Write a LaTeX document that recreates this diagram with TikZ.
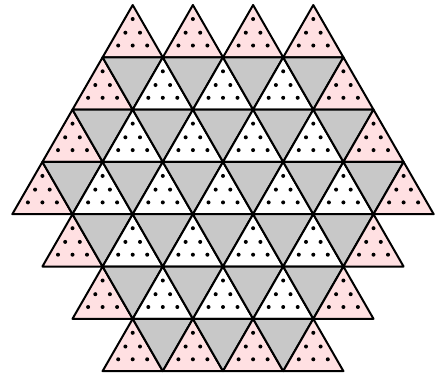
\documentclass[tikz,border=0pt]{standalone}
\definecolor{pinkfill}{RGB}{255,224,226}
\definecolor{greyfill}{RGB}{200,200,200}
\begin{document}
\begin{tikzpicture}[x=1pt,y=-1pt,
  tri/.style={draw=black,line width=2pt,line join=round},
  dotmark/.style={fill=black}]
\useasboundingbox (0,0) rectangle (437,373);
\def\s{60.2}
\def\h{52.3}
\def\cx{223}
\def\ytop{5}
\foreach \r/\n in {0/4,1/5,2/6,3/7,4/6,5/5,6/4}{
  \pgfmathsetmacro\yt{\ytop+\r*\h}
  \pgfmathtruncatemacro\last{\n-1}
  \foreach \k in {0,...,\last}{
    \pgfmathsetmacro\ax{\cx+(\k-(\n-1)/2)*\s}
    \pgfmathtruncatemacro\ispink{(\k==0)||(\k==\last)||(\r==0)||(\r==6)}
    \ifnum\ispink=1 \def\fc{pinkfill}\else\def\fc{white}\fi
    \draw[tri,fill=\fc] (\ax,\yt) -- ++(-\s/2,\h) -- ++(\s,0) -- cycle;
    \foreach \dx/\dy in {0/14,-7.3/27.7,7.3/27.7,-14.5/40.5,0/40.5,14.5/40.5}
      \fill[dotmark] (\ax+\dx,\yt+\dy) circle (2pt);
    \ifnum\r>0 \ifnum\k<\last
      \draw[tri,fill=greyfill] (\ax,\yt) -- ++(\s,0) -- ++(-\s/2,\h) -- cycle;
    \fi\fi
  }
}
\end{tikzpicture}
\end{document}
